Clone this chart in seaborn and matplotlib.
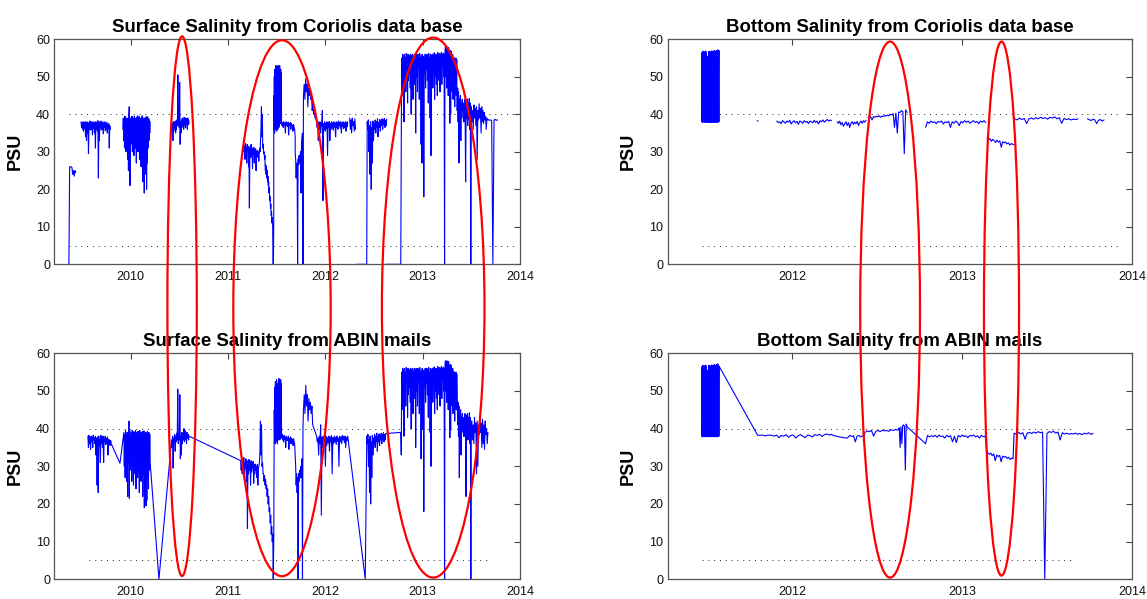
import numpy as np
import pandas as pd
import matplotlib
matplotlib.use("Agg")
import matplotlib.pyplot as plt
from matplotlib.patches import Ellipse
import seaborn as sns

nan = float("nan")

# ---------------------------------------------------------------------------
# Surface salinity, Coriolis data base (segment start/end in decimal years,
# connection group, salinity samples in PSU)
# ---------------------------------------------------------------------------
surf_cor_start = [2009.365, 2009.49, 2009.89, 2009.92, 2010.275, 2010.42,
                  2011.16, 2011.38, 2011.47, 2011.55, 2011.69, 2011.775, 2011.91,
                  2012.25, 2012.32, 2012.43, 2012.62, 2012.78, 2013.225,
                  2013.35, 2013.42, 2013.50, 2013.66]
surf_cor_end = [2009.435, 2009.79, 2009.895, 2010.20, 2010.29, 2010.60,
                2011.38, 2011.47, 2011.55, 2011.69, 2011.77, 2011.91, 2012.23,
                2012.31, 2012.425, 2012.63, 2012.775, 2013.22, 2013.35,
                2013.42, 2013.50, 2013.66, 2013.77]
surf_cor_run = [0, 1, 2, 3, 4, 5, 6, 6, 6, 6, 6, 6, 6, 7, 8, 8, 9, 9, 9, 9, 9, 9, 9]
surf_cor_vals = [
    [0, 26, 26, 26, 25.8, 24, 25, 23.5, 25, 24.5],
    [38, 36.5, 37.8, 36, 38, 35.5, 37.5, 36.2, 38, 34, 37.6, 33, 38, 35, 37.8, 29.5,
     37, 36, 38.2, 35.8, 37.5, 36, 38, 34.5, 37.7, 36.3, 38, 35, 37.5, 31, 38, 36,
     37.8, 35.5, 38.3, 23, 37.6, 33, 38, 36.4, 38.2, 35.8, 37.8, 36, 38, 34.8, 37.5,
     36.5, 38, 35.6, 37.4, 36, 37.8, 35, 37.2, 36.3, 37.5, 31, 37, 36],
    [31.5, 31.5],
    [36, 39, 33, 38.5, 31, 39.5, 34, 38, 30, 39, 35, 38.5, 28, 39, 25, 39.5, 42, 34,
     21, 39, 32, 38.5, 36, 39.5, 30, 39, 33, 38.7, 29, 39.5, 35, 39, 31, 38.5, 27,
     39.2, 33, 39.6, 30, 38.8, 34, 39.4, 28, 39, 32, 38.5, 26, 39.2, 30, 39.6, 22,
     38.8, 28, 39, 19, 38.5, 24, 39.2, 29, 38.8, 20, 39.4, 27, 38.6, 31, 39, 33,
     38.5, 35, 38],
    [0, 0],
    [38, 36, 37.5, 33, 38, 35.5, 37.8, 36.5, 38.2, 35, 37.5, 36, 38.5, 37, 50.5, 37,
     38, 36.5, 48.5, 32, 38, 35, 38.5, 36.5, 39, 37, 38.5, 36, 39.2, 37, 38.6, 36.5,
     39, 37.5, 38.4, 36, 39, 37.2, 38.5, 37.5],
    [32, 30, 31.5, 28, 32.2, 29.5, 31, 27, 32, 30.5, 31.5, 26, 31, 15, 30, 31.5,
     28.5, 32, 29, 30.5, 25.5, 31, 29.8, 31.2, 27, 30.5, 29, 30.8, 25, 30, 28.5,
     30.4, 29, 30, 27.5, 29.5, 31, 30, 33, 36, 42, 34, 40, 31, 32, 29.5, 30, 28, 29],
    [27, 25, 26.5, 24, 26, 23, 25, 22, 23.5, 21, 22, 19, 20.5, 17, 18, 15, 16, 13,
     14, 11, 12.5, 10, 0, 0, 12],
    [45, 36, 50, 35, 52, 37, 49, 36, 53, 38, 51, 35.5, 52.5, 37, 50, 36, 53, 38, 52,
     36.5, 50.5, 37, 53, 38, 49, 37.5, 52, 38, 51, 38],
    [38, 37, 37.8, 36.5, 38, 37.2, 37.6, 35, 38, 37, 37.5, 36.8, 37.9, 34.5, 37.4,
     37, 37.8, 36, 37.5, 37.2, 37, 35.5, 37.3, 36.5, 36, 34],
    [30, 28, 23, 27, 26, 0, 28, 26.5, 29, 27, 28.5, 30, 19, 32, 34, 35, 0],
    [45, 48, 44, 49.5, 46, 48, 42, 47, 45, 46.5, 44, 45, 41, 43, 40, 41, 39, 40, 38],
    [38, 36.5, 37.5, 33, 38, 36, 37.8, 35, 38, 36.8, 41, 17, 37.5, 36, 38, 35.5,
     37.6, 36.2, 38, 29, 37.8, 36.5, 38.1, 33, 37.6, 36, 38, 36.4, 37.7, 35.8, 38,
     36.6, 37.5, 34, 38, 36.5, 37.8, 36, 38.2, 37, 37.9, 36.3, 38, 35, 37.6, 36.8,
     38, 36.2, 37.7, 36.5, 38, 35.5, 37.8, 36.7, 38],
    [39, 36, 38.5, 35, 39, 37, 38, 35.5, 38.8, 36],
    [0, 0, 0],
    [38, 36, 38.5, 30, 37, 24, 38, 20, 36.5, 27, 38.2, 33, 37.5, 36, 38.5, 35, 38,
     36.5, 38.8, 34, 37.8, 36.5, 38.6, 35.5, 38.2, 37, 38.8, 36, 38.5, 37.2, 38.9,
     36.5, 38.4, 37, 38.7],
    [0, 0, 0],
    [33, 55, 48, 56, 45, 55.5, 38, 56, 50, 55, 46, 56.2, 52, 55.5, 43, 56, 49, 55.8,
     51, 55, 47, 56, 40, 55.5, 50, 56, 44, 55.2, 52, 56, 48, 55.6, 35, 56, 50, 55.4,
     46, 56, 53, 55.5, 44, 56.2, 50, 55, 32, 55.8, 27, 56, 46, 55.5, 18, 55.2, 51,
     56, 47, 55.6, 52, 56, 49, 55.5, 43, 56.2, 50, 55, 39, 56, 29, 55.7, 51, 56, 47,
     55.5, 53, 56.4, 44, 55.8, 50, 56, 48, 55.6, 45, 56.5, 52, 55.8, 49, 56.2, 46,
     56, 51, 56.5, 48, 55.8, 53, 56.3, 50, 56],
    [0, 56, 58, 50, 57.5, 47, 58, 52, 57, 45, 57.8, 49, 56.5, 37.6, 57, 40, 56.8, 51,
     55.5, 46, 56, 44, 55.2, 49, 55, 42, 54.8, 47, 55, 45, 54.5],
    [49, 41, 47, 38, 46, 27, 44, 40, 45, 33, 43, 39, 44, 41, 42.5, 38],
    [43, 38, 44, 40, 22, 43.5, 39, 44, 37, 43, 38.5, 44.2, 36, 43, 0, 42],
    [42, 38, 41, 36, 42.5, 39, 41.5, 37, 42, 28, 41, 38.5, 42.8, 39, 41.5, 35, 42,
     38, 41, 37.5, 40.5, 38.5, 39.5, 36, 39],
    [38.5, 38.6, 38.4, 38.5, 38.3, 0, 38.5, 38.6, 38.4, 38.5],
]

# ---------------------------------------------------------------------------
# Surface salinity, ABIN mails (one continuous record)
# ---------------------------------------------------------------------------
surf_abin_start = [2009.56, 2009.89, 2009.93, 2010.29, 2010.42, 2011.13, 2011.365,
                   2011.475, 2011.555, 2011.695, 2011.775, 2011.91, 2012.41,
                   2012.42, 2012.775, 2012.78, 2013.225, 2013.355, 2013.425, 2013.505]
surf_abin_end = [2009.80, 2009.89, 2010.20, 2010.29, 2010.60, 2011.36, 2011.47,
                 2011.55, 2011.69, 2011.77, 2011.87, 2012.23, 2012.41,
                 2012.62, 2012.775, 2013.22, 2013.35, 2013.42, 2013.50, 2013.67]
surf_abin_run = [0] * 20
surf_abin_vals = [
    [38, 35, 38.2, 36, 37.5, 34.5, 38, 36.5, 37.8, 35, 38.3, 37, 37.6, 36, 38, 33,
     37.5, 25, 37.8, 23, 38, 35.5, 37, 31, 38.2, 36, 37.6, 35, 38, 31, 37.5, 36.5,
     38, 35.8, 37.4, 36.2, 37.8, 33, 37.2, 36, 37, 35.5, 36.8, 36],
    [30.8],
    [39, 30, 38.5, 27, 39.5, 33, 38, 26, 39, 22, 38.5, 31, 42, 21.5, 39.5, 29, 38,
     34, 39, 26, 39.5, 30, 38.6, 25, 39.2, 32, 38.8, 28, 39.5, 24, 39, 31, 38.5, 27,
     39.3, 29, 38.7, 23, 39.5, 30, 39, 26, 38.5, 32, 39.2, 22, 38.8, 28, 39.4, 19,
     38.6, 25, 39, 19.5, 38.5, 21, 39.2, 27, 38.8, 24, 39, 29, 38.5, 31],
    [0],
    [37, 35, 38, 29.5, 37.5, 36, 38.5, 34, 38, 36.5, 38.8, 37, 50.5, 36, 38.5, 37,
     49, 32, 38, 33, 39, 36, 38.5, 37, 40, 36.5, 39.5, 37, 38.8, 36, 39, 37.5, 38.5,
     37, 38],
    [31.5, 29, 32, 28, 31.5, 30, 32.3, 27, 31, 29.5, 32, 26, 31.5, 13.5, 30.5, 28,
     31.8, 29, 31, 25, 31.5, 28.5, 30.8, 29.5, 31.3, 25.5, 30.5, 28, 30.6, 29, 30,
     27, 30.5, 25, 29.5, 30, 31, 34, 42, 33, 41, 30, 31, 28],
    [28, 26, 27.5, 25, 26.5, 24, 25, 22, 24, 20, 22, 18, 19, 15, 17, 12, 14, 10, 12,
     0, 11],
    [45, 37, 51, 36, 52.5, 38, 50, 36.5, 53, 37.5, 51.5, 36, 52, 38, 50, 37, 53.3,
     38, 52.5, 37, 51, 38.5, 53, 37.5, 52, 38],
    [38.5, 37, 38, 36.5, 38.2, 37.2, 37.6, 35, 38, 37, 37.5, 36.8, 38, 34.5, 37.4,
     37, 37.8, 36, 37.5, 37.2, 37, 35.5, 37.3, 36.5, 36, 33],
    [30, 25, 28, 23, 27, 0, 28, 26, 29, 27, 28, 30, 27, 32, 0, 40],
    [45, 49, 44, 51.5, 46, 49, 42, 48, 45, 47, 44, 46, 41],
    [38, 36.5, 37.5, 33, 38, 36, 41, 17, 37.8, 35, 38, 36.8, 37.5, 30, 38, 35.5,
     37.6, 36.2, 38, 34, 37.8, 36.5, 38.1, 28, 37.6, 36, 38, 36.4, 37.7, 35.8, 38,
     36.6, 37.5, 30, 38, 36.5, 37.8, 36, 38.2, 37, 37.9, 36.3, 38, 35, 37.6, 36.8, 38],
    [0],
    [24, 38, 36, 38.5, 30, 37, 23, 38, 20, 36.5, 27, 38.2, 33, 37.5, 36, 38.5, 35,
     38, 36.5, 38.8, 34, 37.8, 36.5, 38.6, 35.5, 38.2, 37, 38.8, 36, 38.5, 37.2,
     38.9, 36.5, 38.4, 37, 38.7],
    [39],
    [33, 55, 48, 56, 45, 55.5, 38, 56, 50, 55, 46, 56.2, 52, 55.5, 43, 56, 49, 55.8,
     51, 55, 47, 56, 40, 55.5, 50, 56, 44, 55.2, 52, 56, 48, 55.6, 35, 56, 50, 55.4,
     46, 56, 53, 55.5, 44, 56.2, 50, 55, 32, 55.8, 40, 56, 46, 55.5, 18, 55.2, 51,
     56, 47, 55.6, 52, 56, 49, 55.5, 43, 56.2, 50, 55, 39, 56, 30, 55.7, 51, 56, 47,
     55.5, 53, 56.4, 44, 55.8, 50, 56, 48, 55.6, 45, 56.5, 52, 55.8, 49, 56.2, 46,
     56, 51, 56.5, 48, 55.8, 53, 56.3, 50, 56],
    [0, 56, 58, 50, 57.5, 47, 58, 52, 57, 45, 57.8, 49, 56.5, 37.6, 57, 40, 56.8, 51,
     55.5, 46, 56, 44, 55.2, 49, 55, 42, 54.8, 47, 55, 45, 54.5],
    [49, 41, 47, 38, 46, 27, 44, 40, 45, 33, 43, 39, 44, 41, 42.5, 38],
    [43, 38, 44, 40, 22, 43.5, 39, 44, 37, 43, 38.5, 44.2, 36, 43, 0, 42],
    [42, 37, 41, 36, 43, 39, 41.5, 28, 42, 30, 41, 38.5, 43, 39, 41.5, 35, 42.5, 36,
     41, 34.5, 42, 38.5, 40, 36, 39],
]

# ---------------------------------------------------------------------------
# Bottom salinity, Coriolis data base
# ---------------------------------------------------------------------------
bot_cor_start = [2011.469, 2011.795, 2011.91, 2012.265, 2012.446, 2012.785,
                 2013.146, 2013.31, 2013.736]
bot_cor_end = [2011.572, 2011.80, 2012.232, 2012.435, 2012.676, 2013.139,
               2013.305, 2013.681, 2013.834]
bot_cor_run = [0, 1, 2, 3, 4, 5, 6, 7, 8]
bot_cor_vals = [
    [38, 56.5, 37.8, 56.8, 38, 56.6, 37.9, 56.7, 38, 56.5, 37.8, 56.9, 38, 56.4,
     37.9, 55, 38, 55.5, 37.8, 56.7, 38, 56.8, 37.9, 56.5, 38, 56.6, 37.8, 56.9, 38,
     56.4, 37.9, 56.8, 38, 56.5, 37.8, 57, 38, 56.7, 37.9, 56.8, 38, 57, 37.8, 56.9,
     38, 57.2, 37.9, 56.8, 38, 57],
    [38.3, 38.2],
    [38.2, 37.8, 38, 37.5, 38.3, 38, 37.6, 38.2, 37.9, 38.4, 37.4, 38, 38.3, 37.7,
     38.1, 37.3, 38.2, 38, 37.6, 38.3, 37.9, 38.1, 37.5, 38.2, 38, 37.7, 38.4, 37.8,
     38.2, 37.4, 38.3, 38, 38.5, 37.9, 38.3, 38.6, 38.2, 38.5, 38.3],
    [38, 37.6, 38.2, 37.2, 37.8, 36.8, 37.5, 38, 37, 37.8, 36.5, 37.6, 38, 37.3,
     37.9, 37.5, 38.1, 37, 37.8, 38.2, 37.6, 38.3, 37.9, 38.4],
    [39.2, 39.5, 39.3, 38.5, 39.4, 39.2, 39.5, 39.3, 39.6, 39.2, 39.5, 39.4, 39.7,
     39.5, 39.8, 39.6, 40, 39.8, 40.2, 36.5, 40.3, 35, 40.6, 40.5, 41, 40.7, 29.5,
     41.2, 40.5],
    [36.5, 38, 37.6, 38.2, 37.8, 38, 37.5, 38.1, 37.9, 38.2, 37.4, 38, 37.8, 38.1,
     36.5, 38, 37.6, 38.2, 37.8, 37, 38.1, 37.7, 38.3, 37.9, 38.2, 37.6, 38, 38.3,
     37.8, 38.1, 37.5, 38.2, 37.9, 38.3, 37.8],
    [33.8, 33.2, 33.5, 32.8, 33.3, 33, 32.5, 33.1, 32.6, 32.9, 31.2, 32.7, 32.4,
     32.6, 32.1, 32.4, 31.8, 32.2, 32, 31.9],
    [38.8, 38.5, 39, 38.6, 38.9, 37.5, 38.8, 39, 38.7, 39.1, 38.8, 39.2, 38.9, 39.1,
     38.7, 39.2, 39, 39.3, 38.8, 39.1, 37.6, 38.9, 38.6, 38.8, 38.5, 38.7, 38.6, 38.8],
    [38.8, 38.6, 38.3, 38.7, 38.5, 37.5, 38.4, 38.6, 38.2, 38.5],
]

# ---------------------------------------------------------------------------
# Bottom salinity, ABIN mails (one continuous record)
# ---------------------------------------------------------------------------
bot_abin_start = [2011.469, 2011.797, 2012.236, 2012.33, 2012.428, 2012.625,
                  2012.785, 2013.142, 2013.305]
bot_abin_end = [2011.572, 2012.232, 2012.326, 2012.424, 2012.621, 2012.676,
                2013.135, 2013.299, 2013.769]
bot_abin_run = [0] * 9
bot_abin_vals = [
    [38, 56.5, 37.8, 56.8, 38, 56.6, 37.9, 56.7, 38, 56.5, 37.8, 56.9, 38, 56.4,
     37.9, 55, 38, 55.5, 37.8, 56.7, 38, 56.8, 37.9, 56.5, 38, 56.6, 37.8, 56.9, 38,
     56.4, 37.9, 56.8, 38, 56.5, 37.8, 57, 38, 56.7, 37.9, 56.8, 38, 57, 37.8, 56.9,
     38, 57.2, 37.9, 56.8, 38, 56.5],
    [38.3, 38.2, 38.3, 38.1, 38.2, 38.3, 38.2, 38, 38.3, 37.6, 38.2, 38, 38.4, 37.7,
     38.2, 38.3, 37.5, 38.1, 38.4, 38, 37.6, 38.3, 38.1, 37.8, 38.4, 38.2, 38.5,
     37.9, 38.4, 38.6, 38.3, 38.5],
    [38.3, 38, 37.8, 37.6, 37.5],
    [37.8, 38.2, 37.9, 38.1, 36.5, 38, 38.2, 37.8, 38.1, 37.9],
    [39, 39.4, 39.2, 39.5, 38, 39.3, 39.5, 39.2, 39.6, 39.4, 39.5, 39.3, 39.7, 39.5,
     39.8, 39.6],
    [39.8, 40.2, 35, 40.5, 36, 40.8, 41, 40.6, 29, 41.2, 40.5],
    [36, 38.2, 37.8, 38.1, 37.9, 38.2, 37.7, 38.3, 37.9, 38, 37.5, 38.2, 37.8, 38.1,
     36.5, 38, 36.3, 38.2, 37.8, 38.3, 37.9, 38.1, 37.6, 38.2, 38, 38.3, 37.8, 38.1,
     37.5, 38.2, 37.9, 38],
    [35, 33.5, 33.2, 33.5, 32.8, 33.3, 31.5, 33, 32.6, 32.9, 31.2, 32.7, 32.4, 32.6,
     32.1, 32.4, 31.8, 32.2, 32],
    [38.8, 38.5, 39, 38.6, 38.9, 37.2, 38.8, 39, 38.7, 39.1, 38.8, 39.2, 38.9, 39.1,
     0, 38.7, 39.2, 39, 39.3, 38.8, 39.1, 37, 38.9, 38.6, 38.8, 38.5, 38.7, 38.6,
     38.8, 38.5, 38.7, 38.4, 38.8, 38.6, 38.9, 38.5, 38.7],
]

# Reference salinity levels and the time span over which each is drawn
ref_levels = [40, 5]
surf_cor_ref_span = [2009.37, 2013.95]
surf_abin_ref_span = [2009.57, 2013.70]
bot_cor_ref_span = [2011.47, 2013.93]
bot_abin_ref_span = [2011.47, 2013.66]

titles = ["Surface Salinity from Coriolis data base",
          "Bottom Salinity from Coriolis data base",
          "Surface Salinity from ABIN mails",
          "Bottom Salinity from ABIN mails"]
surf_xticks = [2010, 2011, 2012, 2013, 2014]
bot_xticks = [2012, 2013, 2014]
yticks = [0, 10, 20, 30, 40, 50, 60]


def to_frame(starts, ends, runs, vals):
    rows = []
    for t0, t1, r, v in zip(starts, ends, runs, vals):
        for t, s in zip(np.linspace(t0, t1, len(v)), v):
            rows.append((t, s, r))
    return pd.DataFrame(rows, columns=["year", "psu", "run"])


panels = [
    (to_frame(surf_cor_start, surf_cor_end, surf_cor_run, surf_cor_vals),
     surf_cor_ref_span, surf_xticks, (2009.215, 2014)),
    (to_frame(bot_cor_start, bot_cor_end, bot_cor_run, bot_cor_vals),
     bot_cor_ref_span, bot_xticks, (2011.269, 2014)),
    (to_frame(surf_abin_start, surf_abin_end, surf_abin_run, surf_abin_vals),
     surf_abin_ref_span, surf_xticks, (2009.215, 2014)),
    (to_frame(bot_abin_start, bot_abin_end, bot_abin_run, bot_abin_vals),
     bot_abin_ref_span, bot_xticks, (2011.269, 2014)),
]

sns.set_theme(style="white")
plt.rcParams["font.family"] = ["Liberation Sans", "DejaVu Sans"]
plt.rcParams["text.color"] = "black"
plt.rcParams["axes.labelcolor"] = "black"

W, H = 1147, 599
fig = plt.figure(figsize=(W / 100, H / 100), dpi=100)
fig.patch.set_facecolor("white")

boxes = [
    [54.3 / W, 1 - 264.3 / H, 465.7 / W, 225 / H],
    [667.7 / W, 1 - 264.3 / H, 464.6 / W, 225 / H],
    [54.3 / W, 1 - 579.3 / H, 465.7 / W, 226 / H],
    [667.7 / W, 1 - 579.3 / H, 464.6 / W, 226 / H],
]

for (df, span, xt, xlim), box, title in zip(panels, boxes, titles):
    ax = fig.add_axes(box)
    for lvl in ref_levels:
        ax.plot(span, [lvl, lvl], color="#202020", lw=0.7,
                linestyle=(0, (1, 5)), zorder=1)
    sns.lineplot(data=df, x="year", y="psu", units="run", estimator=None,
                 sort=False, color="#0000ff", linewidth=0.8, ax=ax, zorder=2)
    ax.set_xlim(*xlim)
    ax.set_ylim(0, 60)
    ax.set_xticks(xt)
    ax.set_xticklabels([str(v) for v in xt])
    ax.set_yticks(yticks)
    ax.set_xlabel("")
    ax.set_ylabel("PSU", fontsize=13, fontweight="bold", labelpad=9,
                  color="black")
    ax.set_title(title, fontsize=13.4, fontweight="bold", pad=5, color="black")
    ax.tick_params(direction="in", length=4, width=0.8, color="#444444",
                   labelsize=9, labelcolor="#111111", top=True, right=True)
    ax.tick_params(axis="x", pad=5)
    ax.tick_params(axis="y", pad=3)
    for sp in ax.spines.values():
        sp.set_color("#555555")
        sp.set_linewidth(0.9)
    ax.set_facecolor("white")

# Highlight ellipses spanning both rows (centre x, centre y, width, height in px)
ellipses = [
    (182.1, 306.2, 29.4, 539.7),
    (282.0, 308.2, 97.4, 536.0),
    (433.2, 307.6, 102.6, 540.0),
    (890.1, 309.6, 59.8, 536.0),
    (1001.5, 308.6, 35.1, 534.0),
]
for cx, cy, w, h in ellipses:
    fig.add_artist(Ellipse((cx / W, 1 - cy / H), w / W, h / H,
                           transform=fig.transFigure, fill=False,
                           edgecolor="#ff0000", lw=1.6, zorder=10))

fig.savefig("out.png", dpi=100)
